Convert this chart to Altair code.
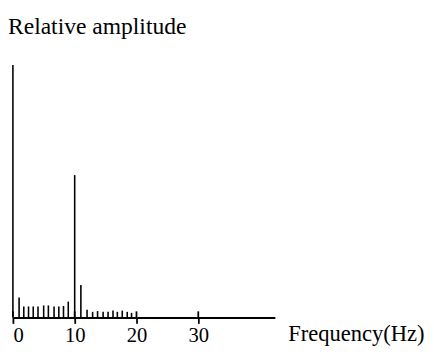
import altair as alt
import pandas as pd

# Spectrum lines (frequency in Hz, relative amplitude)
freqs = [0.0, 1.0, 1.76, 2.53, 3.29, 4.06, 4.98, 5.74, 6.66, 7.43, 8.19, 8.96,
         10.0, 11.0, 12.0, 12.9, 13.7, 14.6, 15.4, 16.2, 16.9, 17.7, 18.5, 19.2]
amps = [0.99, 0.078, 0.043, 0.043, 0.043, 0.043, 0.047, 0.047, 0.043, 0.043, 0.045, 0.062,
        0.558, 0.127, 0.03, 0.022, 0.025, 0.022, 0.022, 0.027, 0.022, 0.027, 0.022, 0.018]
tick_values = [0, 10, 20, 30]
cross_low = [0.0] * 4
cross_high = [0.024] * 4

FONT = "Liberation Serif"

spec = pd.DataFrame({"freq": freqs, "amp": amps})
ticks = pd.DataFrame({"freq": tick_values, "lo": cross_low, "hi": cross_high})

xscale = alt.Scale(domain=[0, 42.4], nice=False, zero=False)
yscale = alt.Scale(domain=[0, 1], nice=False)

stems = alt.Chart(spec).mark_rule(color="black", strokeWidth=1.6).encode(
    x=alt.X("freq:Q", scale=xscale,
            axis=alt.Axis(values=tick_values, ticks=True, tickSize=6, tickWidth=1.8,
                          tickColor="black", grid=False,
                          domainColor="black", domainWidth=2,
                          labelFont=FONT, labelFontSize=21, labelColor="black",
                          labelPadding=2, labelBaseline="top",
                          title="Frequency(Hz)", titleFont=FONT, titleFontSize=23,
                          titleFontWeight="normal", titleColor="black",
                          titleAlign="left", titleBaseline="alphabetic",
                          titleX=280, titleY=23, titleAngle=0)),
    y=alt.Y("amp:Q", scale=yscale, axis=None),
    y2=alt.datum(0),
)

crosses = alt.Chart(ticks).mark_rule(color="black", strokeWidth=1.8).encode(
    x=alt.X("freq:Q", scale=xscale),
    y=alt.Y("lo:Q", scale=yscale),
    y2="hi:Q",
)

chart = alt.layer(stems, crosses).properties(
    width=267,
    height=260,
    background="white",
    autosize=alt.AutoSizeParams(type="none"),
    padding={"left": 5, "top": 52, "right": 154, "bottom": 41},
    title=alt.TitleParams("Relative amplitude", anchor="start", frame="group",
                          font=FONT, fontSize=24, fontWeight="normal",
                          color="black", baseline="alphabetic", offset=5, dx=-5),
).configure_view(strokeWidth=0).configure_title(font=FONT, fontWeight="normal")

chart.save("out.html", embed_options={"renderer": "svg", "actions": False})
